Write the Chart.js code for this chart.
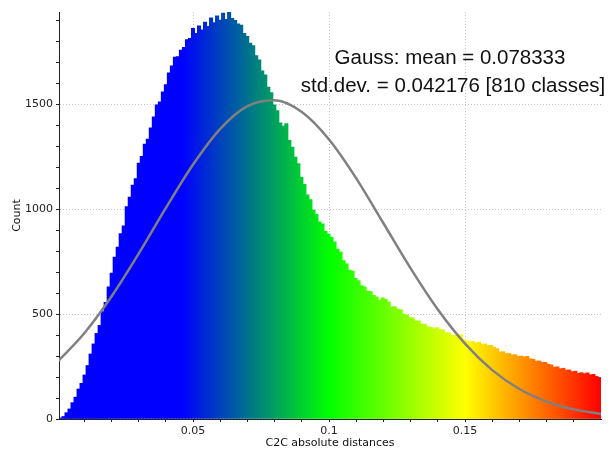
<!DOCTYPE html>
<html><head><meta charset="utf-8">
<script src="https://cdn.jsdelivr.net/npm/chart.js@4.4.1/dist/chart.umd.min.js"></script>
<style>html,body{margin:0;padding:0;background:#fff}#wrap{width:610px;height:452px;position:relative}</style>
</head><body><div id="wrap"><canvas id="c"></canvas></div>
<script>
// ---- data ----
const xRange = [0.0007, 0.2];
const binCounts = [
  5, 12, 30, 48, 78, 104, 143, 170, 210, 255,
  310, 358, 408, 446, 512, 556, 630, 696, 772, 820,
  884, 921, 1012, 1058, 1115, 1146, 1220, 1252, 1310, 1334,
  1388, 1440, 1498, 1512, 1560, 1594, 1650, 1684, 1725, 1728,
  1758, 1772, 1808, 1815, 1862, 1838, 1874, 1855, 1892, 1872,
  1912, 1890, 1922, 1902, 1935, 1905, 1938, 1910, 1900, 1884,
  1878, 1838, 1824, 1792, 1780, 1732, 1712, 1660, 1640, 1582,
  1556, 1498, 1470, 1412, 1396, 1408, 1328, 1296, 1248, 1218,
  1152, 1118, 1068, 1046, 996, 975, 940, 930, 895, 882,
  866, 845, 810, 796, 755, 740, 710, 705, 670, 660,
  636, 630, 610, 608, 590, 582, 566, 578, 570, 558,
  534, 536, 524, 521, 500, 497, 484, 482, 468, 468,
  453, 452, 440, 438, 430, 436, 427, 425, 412, 411,
  399, 400, 390, 402, 378, 372, 368, 370, 362, 366,
  357, 358, 350, 351, 342, 336, 320, 321, 312, 313,
  305, 307, 299, 300, 296, 299, 287, 285, 276, 277,
  270, 270, 261, 258, 247, 249, 240, 242, 233, 234,
  226, 228, 218, 221, 216, 220, 211, 213, 203, 198
];
const gaussX = [0, 0.01, 0.02, 0.03, 0.04, 0.05, 0.06, 0.07, 0.08, 0.09, 0.1,
                0.11, 0.12, 0.13, 0.14, 0.15, 0.16, 0.17, 0.18, 0.19, 0.2];
const gaussY = [271, 409, 584, 788, 1006, 1213, 1383, 1491, 1519, 1463, 1332,
                1147, 933, 718, 522, 359, 233, 143, 83, 46, 24];
const xMinorTicks = [0.01, 0.02, 0.03, 0.04, 0.05, 0.06, 0.07, 0.08, 0.09, 0.1,
                     0.11, 0.12, 0.13, 0.14, 0.15, 0.16, 0.17, 0.18, 0.19];
const xMajorTicks = [0.05, 0.1, 0.15];
const xMajorLabels = ['0.05', '0.1', '0.15'];
const yMinorTicks = [0, 100, 200, 300, 400, 500, 600, 700, 800, 900, 1000,
                     1100, 1200, 1300, 1400, 1500, 1600, 1700, 1800, 1900];
const yMajorTicks = [0, 500, 1000, 1500];
const yMajorLabels = ['0', '500', '1000', '1500'];
const yMax = 1940;
const colorStops = [[0.046, '#0000ff'], [0.1, '#00ff00'], [0.15, '#ffff00'], [0.2, '#ff0000']];
const infoLines = ['Gauss: mean = 0.078333', 'std.dev. = 0.042176 [810 classes]'];
const xTitle = 'C2C absolute distances';
const yTitle = 'Count';

// ---- chart ----
const binWidth = (xRange[1] - xRange[0]) / binCounts.length;
const categories = binCounts.map((_, i) => (xRange[0] + (i + 0.5) * binWidth).toFixed(5));

let grad = null, gradKey = '';
function barFill(ctx) {
  const chart = ctx.chart;
  const a = chart.chartArea;
  const xs = chart.scales && chart.scales.x;
  if (!a || !xs) return '#0000ff';
  const key = a.left + ',' + a.right;
  if (grad && gradKey === key) return grad;
  const x0 = xs.getPixelForValue(xRange[0]), x1 = xs.getPixelForValue(xRange[1]);
  const g = chart.ctx.createLinearGradient(x0, 0, x1, 0);
  g.addColorStop(0, colorStops[0][1]);
  colorStops.forEach(([v, c]) => g.addColorStop((v - xRange[0]) / (xRange[1] - xRange[0]), c));
  grad = g; gradKey = key;
  return g;
}

const near = (arr, v) => arr.findIndex(m => Math.abs(m - v) < 1e-9);
const tickFont = {family: '"DejaVu Sans", Verdana, sans-serif', size: 11};

const infoPlugin = {
  id: 'info',
  afterDraw(chart) {
    const c = chart.ctx;
    c.save();
    c.font = '20.5px "Liberation Sans", Arial, sans-serif';
    c.fillStyle = '#111';
    c.textAlign = 'center';
    c.textBaseline = 'alphabetic';
    c.fillText(infoLines[0], 450, 63.5);
    c.fillText(infoLines[1], 453, 91.5);
    c.restore();
  }
};

new Chart(document.getElementById('c'), {
  type: 'bar',
  data: {
    labels: categories,
    datasets: [
      {
        type: 'line',
        data: gaussX.map((x, i) => ({x: x, y: gaussY[i]})),
        xAxisID: 'x', yAxisID: 'y',
        borderColor: '#808080', borderWidth: 2.5,
        pointRadius: 0, fill: false,
        cubicInterpolationMode: 'monotone',
        order: 0
      },
      {
        type: 'bar',
        data: binCounts,
        xAxisID: 'xc', yAxisID: 'y',
        backgroundColor: barFill,
        borderWidth: 0,
        barThickness: 3.4,
        grouped: false,
        order: 1
      }
    ]
  },
  options: {
    responsive: true, maintainAspectRatio: false, animation: false,
    layout: {padding: {left: 0, right: 9, top: 12, bottom: 0}},
    plugins: {legend: {display: false}, tooltip: {enabled: false}},
    scales: {
      xc: {type: 'category', display: false, offset: true, ticks: {autoSkip: false}},
      x: {
        type: 'linear', position: 'bottom', min: xRange[0], max: xRange[1], offset: false,
        afterBuildTicks: s => { s.ticks = xMinorTicks.map(v => ({value: v})); },
        afterFit: s => { s.height = 33; s.paddingLeft = 0; s.paddingRight = 0; },
        ticks: {
          autoSkip: false, maxRotation: 0, padding: 3, color: '#222', font: tickFont,
          callback: v => { const i = near(xMajorTicks, v); return i >= 0 ? xMajorLabels[i] : ''; }
        },
        grid: {
          offset: false,
          color: c => (c.tick && near(xMajorTicks, c.tick.value) >= 0) ? '#c4c4c4' : 'rgba(0,0,0,0)',
          lineWidth: 1, tickColor: '#222', tickLength: 3, tickWidth: 1
        },
        border: {color: '#222', width: 1, dash: [1, 2]},
        title: {display: true, text: xTitle, color: '#111', font: tickFont, padding: {top: 0, bottom: 2}}
      },
      y: {
        type: 'linear', min: 0, max: yMax,
        afterBuildTicks: s => { s.ticks = yMinorTicks.map(v => ({value: v})); },
        afterFit: s => { s.width = 59; s.paddingTop = 0; s.paddingBottom = 0; },
        ticks: {
          autoSkip: false, padding: 3, color: '#222', font: tickFont,
          callback: v => { const i = near(yMajorTicks, v); return i >= 0 ? yMajorLabels[i] : ''; }
        },
        grid: {
          color: c => (c.tick && near(yMajorTicks, c.tick.value) >= 0) ? '#c4c4c4' : 'rgba(0,0,0,0)',
          lineWidth: 1, tickColor: '#222', tickLength: 3, tickWidth: 1
        },
        border: {color: '#222', width: 1, dash: [1, 2]},
        title: {display: true, text: yTitle, color: '#111', font: tickFont, padding: {top: 11, bottom: 0}}
      }
    }
  },
  plugins: [infoPlugin]
});
</script>
</body></html>
